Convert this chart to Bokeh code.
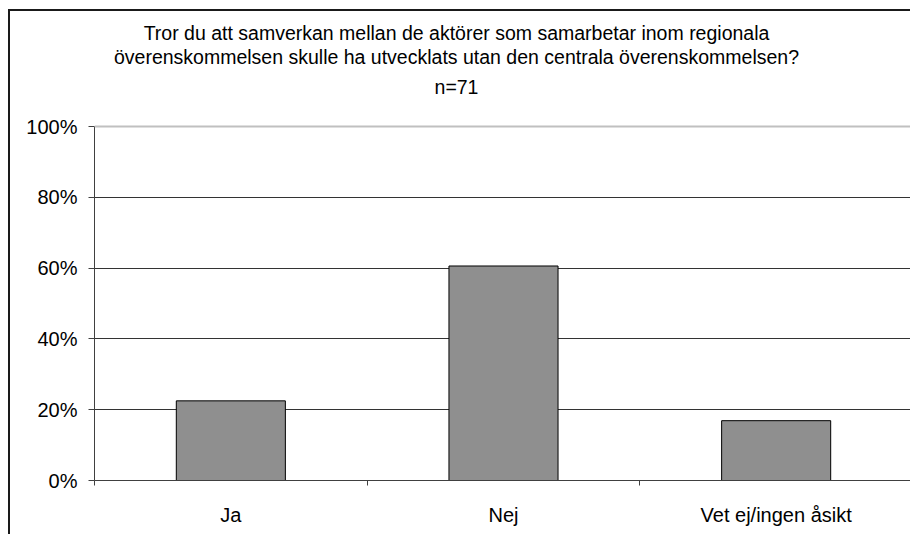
from bokeh.plotting import figure
from bokeh.models import Range1d, FixedTicker, PrintfTickFormatter, Label, ColumnDataSource, Span
from bokeh.embed import file_html
from bokeh.resources import INLINE

categories = ["Ja", "Nej", "Vet ej/ingen åsikt"]
values = [22.5, 60.6, 16.9]
y_ticks = [0, 20, 40, 60, 80, 100]
grid_ticks = [0, 20, 40, 60, 80]
title_lines = [
    "Tror du att samverkan mellan de aktörer som samarbetar inom regionala",
    "överenskommelsen skulle ha utvecklats utan den centrala överenskommelsen?",
    "n=71",
]

FONT = "Liberation Sans"
Y_MAX = 100
Y_VIEW_TOP = 132.5   # extra room above 100% holds the title inside the frame
positions = [i + 0.5 for i in range(len(categories))]
boundaries = list(range(len(categories) + 1))
src = ColumnDataSource(dict(x=positions, top=values, cat=categories))

p = figure(width=902, height=525, x_range=Range1d(0, len(categories)),
           y_range=Range1d(0, Y_VIEW_TOP),
           output_backend="svg", toolbar_location=None,
           min_border_left=84, min_border_top=0, min_border_bottom=56, min_border_right=0)
p.styles = {"margin-left": "8px", "margin-top": "9px",
            "border-left": "2px solid #1a1a1a", "border-top": "2px solid #1a1a1a"}
p.background_fill_color = "white"
p.border_fill_color = "white"
p.outline_line_color = None

p.vbar(x="x", top="top", bottom=0, width=0.4, source=src,
       fill_color="#8f8f8f", line_color="#000000", line_width=1)

# light top line of the plot area at 100 %
p.add_layout(Span(location=Y_MAX, dimension="width", line_color="#c0c0c0", line_width=2))

# x axis
xa = p.xaxis[0]
xa.ticker = FixedTicker(ticks=positions, minor_ticks=boundaries)
xa.major_label_overrides = {pos: cat for pos, cat in zip(positions, categories)}
xa.major_tick_out = 0
xa.major_tick_in = 0
xa.minor_tick_out = 5
xa.minor_tick_in = 0
xa.minor_tick_line_color = "#404040"
xa.axis_line_color = "#404040"
xa.major_label_standoff = 18
xa.major_label_text_font = FONT
xa.major_label_text_font_size = "20px"
xa.major_label_text_color = "black"
p.xgrid.visible = False

# y axis
ya = p.yaxis[0]
ya.ticker = FixedTicker(ticks=y_ticks)
ya.formatter = PrintfTickFormatter(format="%d%%")
ya.bounds = (0, Y_MAX)
ya.major_tick_out = 6
ya.major_tick_in = 0
ya.minor_tick_out = 0
ya.minor_tick_in = 0
ya.major_tick_line_color = "#404040"
ya.axis_line_color = "#404040"
ya.major_label_standoff = 11
ya.major_label_text_font = FONT
ya.major_label_text_font_size = "20px"
ya.major_label_text_color = "black"
p.ygrid.ticker = FixedTicker(ticks=grid_ticks)
p.ygrid.grid_line_color = "#333333"

# title lines (screen units measured from the frame's bottom-left)
title_y = [448, 424, 394]
for txt, yy in zip(title_lines, title_y):
    p.add_layout(Label(x=362, y=yy, x_units="screen", y_units="screen", text=txt,
                       text_align="center", text_baseline="middle", text_font=FONT,
                       text_font_size="19.5px", text_color="black"))

open("out.html", "w").write(file_html(p, INLINE))
